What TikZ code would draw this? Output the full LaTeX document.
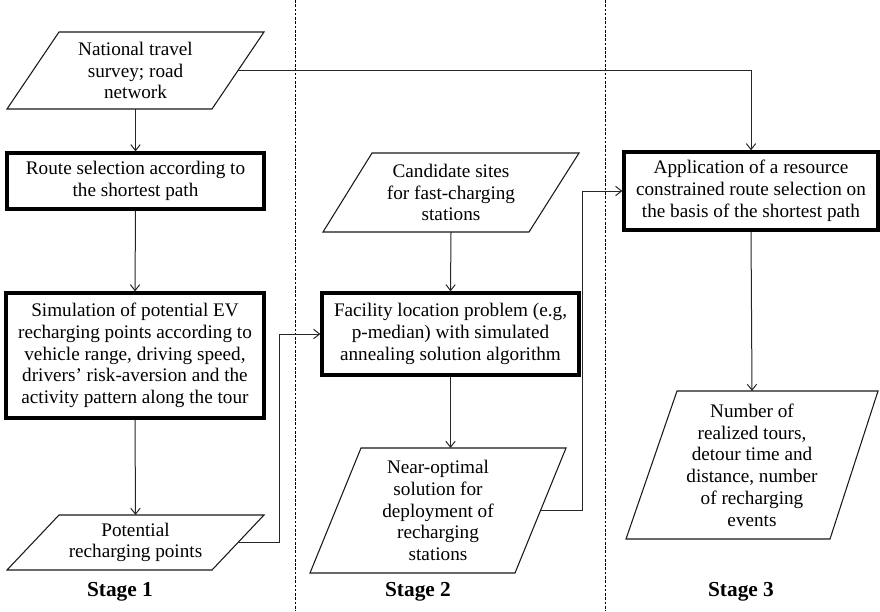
\documentclass[tikz,border=0pt]{standalone}
\usepackage{fontspec}
\setmainfont{Liberation Serif}
\usetikzlibrary{arrows.meta,calc}
\begin{document}
\begin{tikzpicture}[x=0.75pt,y=-0.75pt,
  body/.style={font=\fontsize{14.4}{16.3}\selectfont},
  ptext/.style={body,align=center,inner sep=0pt,outer sep=0pt},
  para/.style={draw=black!90,line width=0.8pt,line join=miter},
  tbox/.style={body,draw=black,line width=2.4pt,align=center,inner sep=0pt,fill=white},
  conn/.style={draw=black!85,line width=0.75pt,-{Straight Barb[length=4.5pt,width=7pt]}},
  sep/.style={draw=black,line width=0.75pt,dash pattern=on 2pt off 1.2pt},
  stagelbl/.style={font=\fontsize{16}{19}\selectfont\bfseries,inner sep=0pt}]
\useasboundingbox (0,0) rectangle (880,611);

% stage separators
\draw[sep] (295,0) -- (295,611);
\draw[sep] (605,0) -- (605,611);

% ---------- Stage 1 ----------
\node[ptext,minimum width=192.75pt,minimum height=57.75pt] (survey) at (135.5,70.5)
  {National travel\\survey; road\\network};
\draw[para] ($(survey.north west)+(52,0)$) -- (survey.north east)
  -- ($(survey.south east)-(52,0)$) -- (survey.south west) -- cycle;

\node[tbox,minimum width=192.75pt,minimum height=42pt] (route) at (135.5,181)
  {Route selection according to\\the shortest path};

\node[tbox,minimum width=193.5pt,minimum height=93.75pt] (sim) at (135,355.5)
  {Simulation of potential EV\\recharging points according to\\vehicle range, driving speed,\\drivers' risk-aversion and the\\activity pattern along the tour};

\node[ptext,minimum width=192.75pt,minimum height=41.25pt] (pot) at (135.5,542.5)
  {Potential\\recharging points};
\draw[para] ($(pot.north west)+(52,0)$) -- (pot.north east)
  -- ($(pot.south east)-(52,0)$) -- (pot.south west) -- cycle;

% ---------- Stage 2 ----------
\node[ptext,minimum width=192pt,minimum height=59.25pt] (cand) at (451,192.5)
  {Candidate sites\\for fast-charging\\stations};
\draw[para] ($(cand.north west)+(49,0)$) -- (cand.north east)
  -- ($(cand.south east)-(50,0)$) -- (cand.south west) -- cycle;

\node[tbox,minimum width=192.75pt,minimum height=61.5pt] (fac) at (450.5,334)
  {Facility location problem (e.g,\\p-median) with simulated\\annealing solution algorithm};

\node[ptext,minimum width=192pt,minimum height=93.75pt] (near) at (438,510.5)
  {Near-optimal\\solution for\\deployment of\\recharging\\stations};
\draw[para] ($(near.north west)+(51,0)$) -- (near.north east)
  -- ($(near.south east)-(51,0)$) -- (near.south west) -- cycle;

% ---------- Stage 3 ----------
\node[tbox,minimum width=190.5pt,minimum height=58.5pt] (app) at (751,191)
  {Application of a resource\\constrained route selection on\\the basis of the shortest path};

\node[ptext,minimum width=189pt,minimum height=111pt] (num) at (752,465)
  {Number of\\realized tours,\\detour time and\\distance, number\\of recharging\\events};
\draw[para] ($(num.north west)+(51,0)$) -- (num.north east)
  -- ($(num.south east)-(48,0)$) -- (num.south west) -- cycle;

% ---------- connectors ----------
\draw[conn] (survey.south) -- (route.north);
\draw[conn] ($(survey.east)-(26,0)$) -| (app.north);
\draw[conn] (route.south) -- (sim.north);
\draw[conn] (sim.south) -- (pot.north);
\draw[conn] ($(pot.east)-(26,0)$) -- ++(41,0) |- (fac.west);
\draw[conn] (cand.south) -- (fac.north);
\draw[conn] (fac.south) -- (fac.south |- near.north);
\draw[conn] ($(near.east)-(25.5,0)$) -- ++(42,0) |- (app.west);
\draw[conn] (app.south) -- (num.north);

% ---------- stage labels ----------
\node[stagelbl] (st1) at (120,592) {Stage 1};
\node[stagelbl] (st2) at (418,592) {Stage 2};
\node[stagelbl] (st3) at (741,592) {Stage 3};
\end{tikzpicture}
\end{document}
